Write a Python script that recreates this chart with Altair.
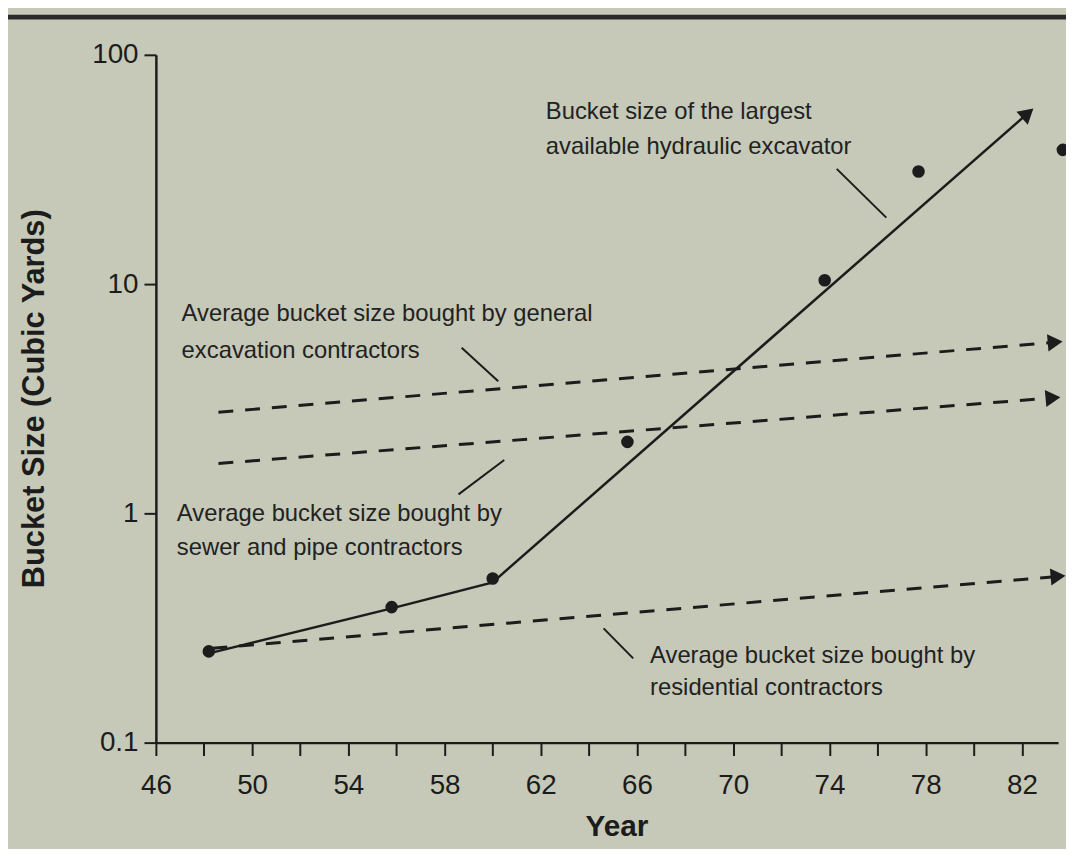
import altair as alt
import pandas as pd

# ---- data ----
years_pts = [48.2, 55.8, 60.0, 65.6, 73.8, 77.7, 83.7]
size_pts = [0.25, 0.39, 0.52, 2.05, 10.4, 31.0, 38.5]

years_trend = [48.2, 55.8, 60.0, 82.24]
size_trend = [0.245, 0.385, 0.50, 55.6]

dash_names = ["general", "general", "sewer", "sewer", "residential", "residential"]
dash_years = [48.6, 83.38, 48.6, 83.29, 48.35, 83.5]
dash_sizes = [2.76, 5.58, 1.65, 3.19, 0.258, 0.531]

arrow_years = [82.24, 83.38, 83.29, 83.5]
arrow_sizes = [55.6, 5.58, 3.19, 0.531]
arrow_angles = [319, 355, 355, 355]

ann_text = [
    "Bucket size of the largest",
    "available hydraulic excavator",
    "Average bucket size bought by general",
    "excavation contractors",
    "Average bucket size bought by",
    "sewer and pipe contractors",
    "Average bucket size bought by",
    "residential contractors",
]
ann_x = [62.21, 62.21, 47.07, 47.07, 46.87, 46.87, 66.54, 66.54]
ann_y = [56.1, 39.6, 7.41, 5.08, 0.99, 0.705, 0.238, 0.173]

lead_x = [74.30, 58.71, 60.48, 64.61]
lead_y = [31.8, 5.28, 1.71, 0.315]
lead_x2 = [76.36, 60.23, 58.58, 65.84]
lead_y2 = [19.5, 3.77, 1.21, 0.233]

x_tick_values = list(range(46, 83, 2))
y_tick_values = [0.1, 1, 10, 100]

INK = "#1c1c1c"
BG = "#c6c9b8"
FONT = "Liberation Sans"

pts = pd.DataFrame({"year": years_pts, "size": size_pts})
trend = pd.DataFrame({"year": years_trend, "size": size_trend})
dashes = pd.DataFrame({"series": dash_names, "year": dash_years, "size": dash_sizes})
arrows = pd.DataFrame({"year": arrow_years, "size": arrow_sizes, "angle": arrow_angles})
ann = pd.DataFrame({"year": ann_x, "size": ann_y, "text": ann_text})
leads = pd.DataFrame({"x": lead_x, "y": lead_y, "x2": lead_x2, "y2": lead_y2})

xscale = alt.Scale(domain=[46, 83.5], nice=False, zero=False)
yscale = alt.Scale(type="log", domain=[0.1, 100], nice=False)

xaxis = alt.Axis(
    values=x_tick_values,
    labelExpr="((datum.value - 46) % 4 == 0) ? datum.value : ''",
    title="Year",
    tickSize=13,
    labelPadding=16,
    titleX=464,
    titleY=85,
    titleBaseline="middle",
    labelFlush=False,
    labelOverlap=False,
)
yaxis = alt.Axis(
    values=y_tick_values,
    format="~g",
    title="Bucket Size (Cubic Yards)",
    tickSize=12,
    labelPadding=6,
    titleX=-122,
    titleY=346,
    titleAngle=270,
    titleBaseline="middle",
    titleAlign="center",
    labelFlush=False,
)

X = alt.X("year:Q", scale=xscale, axis=xaxis)
Y = alt.Y("size:Q", scale=yscale, axis=yaxis)

trend_line = alt.Chart(trend).mark_line(color=INK, strokeWidth=2.5).encode(x=X, y=Y)

dash_lines = alt.Chart(dashes).mark_line(
    color=INK, strokeWidth=3, strokeDash=[15, 12]
).encode(x="year:Q", y="size:Q", detail="series:N")

arrow_heads = alt.Chart(arrows).mark_point(
    shape="triangle-right", filled=True, color=INK, opacity=1, size=300
).encode(x="year:Q", y="size:Q", angle=alt.Angle("angle:Q", scale=None))

dots = alt.Chart(pts).mark_circle(color=INK, opacity=1, size=160).encode(x="year:Q", y="size:Q")

leaders = alt.Chart(leads).mark_rule(color=INK, strokeWidth=2).encode(
    x="x:Q", y="y:Q", x2="x2:Q", y2="y2:Q"
)

labels = alt.Chart(ann).mark_text(
    align="left", baseline="middle", font=FONT, fontSize=24, color="#222222"
).encode(x="year:Q", y="size:Q", text="text:N")

top_rule = alt.Chart(alt.Data(values=[{}])).mark_rule(color="#2a2a2a", strokeWidth=5).encode(
    x=alt.value(-149), x2=alt.value(917), y=alt.value(-38)
)

chart = (
    alt.layer(trend_line, dash_lines, leaders, arrow_heads, dots, labels, top_rule)
    .properties(
        width=909,
        height=693,
        autosize=alt.AutoSizeParams(type="none"),
        padding={"left": 149, "top": 44, "right": 8, "bottom": 104},
        background=BG,
    )
    .configure_view(strokeWidth=0)
    .configure_axis(
        grid=False,
        domainColor=INK,
        domainWidth=2.5,
        tickColor=INK,
        tickWidth=2,
        labelColor=INK,
        labelFont=FONT,
        labelFontSize=28,
        titleFont=FONT,
        titleFontSize=30,
        titleFontWeight="bold",
        titleColor=INK,
    )
    .configure_axisLeft(titleFontSize=31)
)

chart.save("out.html", embed_options={"renderer": "svg", "actions": False})
